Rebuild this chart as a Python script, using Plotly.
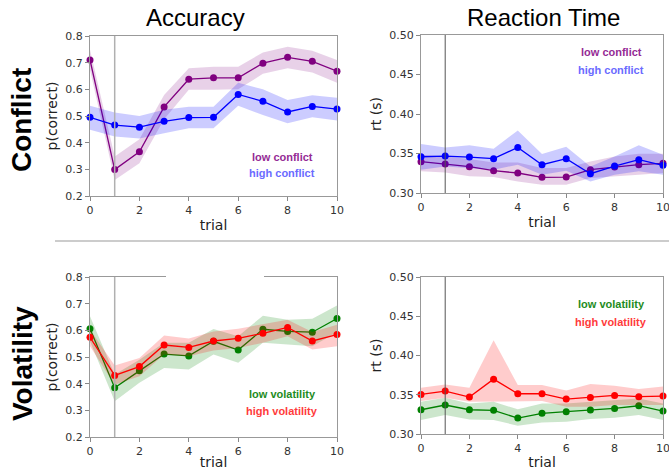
import plotly.graph_objects as go

W, H = 669, 470

trials = list(range(11))

# Conflict - accuracy
acc_low_conf = [0.710, 0.299, 0.366, 0.534, 0.638, 0.643, 0.643, 0.698, 0.720, 0.705, 0.668]
acc_low_conf_hi = [0.748, 0.348, 0.413, 0.579, 0.679, 0.685, 0.685, 0.738, 0.760, 0.745, 0.710]
acc_low_conf_lo = [0.673, 0.260, 0.323, 0.488, 0.598, 0.598, 0.600, 0.658, 0.679, 0.663, 0.625]
acc_high_conf = [0.495, 0.466, 0.458, 0.480, 0.494, 0.495, 0.581, 0.555, 0.515, 0.536, 0.526]
acc_high_conf_hi = [0.538, 0.513, 0.500, 0.523, 0.535, 0.535, 0.625, 0.600, 0.560, 0.578, 0.568]
acc_high_conf_lo = [0.448, 0.423, 0.416, 0.435, 0.454, 0.454, 0.538, 0.504, 0.473, 0.495, 0.483]

# Conflict - reaction time
rt_low_conf = [0.3396, 0.3366, 0.3333, 0.3282, 0.3253, 0.3198, 0.3202, 0.3295, 0.3328, 0.3358, 0.3375]
rt_low_conf_hi = [0.3484, 0.3463, 0.3429, 0.3387, 0.3387, 0.3316, 0.3316, 0.3400, 0.3463, 0.3497, 0.3497]
rt_low_conf_lo = [0.3274, 0.3261, 0.3211, 0.3202, 0.3147, 0.3105, 0.3105, 0.3189, 0.3211, 0.3232, 0.3253]
rt_high_conf = [0.3459, 0.3467, 0.3455, 0.3434, 0.3577, 0.3358, 0.3434, 0.3244, 0.3341, 0.3421, 0.3350]
rt_high_conf_hi = [0.3619, 0.3577, 0.3606, 0.3560, 0.3792, 0.3493, 0.3585, 0.3337, 0.3463, 0.3606, 0.3484]
rt_high_conf_lo = [0.3295, 0.3337, 0.3316, 0.3295, 0.3358, 0.3232, 0.3282, 0.3147, 0.3232, 0.3274, 0.3232]

# Volatility - accuracy
acc_low_vol = [0.606, 0.385, 0.448, 0.511, 0.504, 0.559, 0.526, 0.604, 0.596, 0.593, 0.644]
acc_low_vol_hi = [0.653, 0.434, 0.490, 0.553, 0.553, 0.605, 0.578, 0.655, 0.640, 0.643, 0.693]
acc_low_vol_lo = [0.559, 0.334, 0.403, 0.459, 0.453, 0.509, 0.478, 0.553, 0.546, 0.540, 0.593]
acc_high_vol = [0.574, 0.431, 0.464, 0.545, 0.536, 0.560, 0.570, 0.589, 0.611, 0.560, 0.584]
acc_high_vol_hi = [0.603, 0.468, 0.496, 0.581, 0.569, 0.596, 0.606, 0.624, 0.640, 0.594, 0.621]
acc_high_vol_lo = [0.540, 0.396, 0.428, 0.509, 0.503, 0.524, 0.534, 0.553, 0.578, 0.528, 0.540]

# Volatility - reaction time
rt_low_vol = [0.3309, 0.3369, 0.3309, 0.3301, 0.3203, 0.3263, 0.3284, 0.3305, 0.3326, 0.3360, 0.3292]
rt_low_vol_hi = [0.3411, 0.3462, 0.3390, 0.3411, 0.3314, 0.3390, 0.3390, 0.3411, 0.3432, 0.3453, 0.3390]
rt_low_vol_lo = [0.3178, 0.3242, 0.3186, 0.3178, 0.3106, 0.3148, 0.3157, 0.3191, 0.3208, 0.3242, 0.3178]
rt_high_vol = [0.3504, 0.3547, 0.3470, 0.3699, 0.3513, 0.3513, 0.3445, 0.3466, 0.3492, 0.3475, 0.3483]
rt_high_vol_hi = [0.3589, 0.3631, 0.3589, 0.4195, 0.3623, 0.3623, 0.3555, 0.3636, 0.3614, 0.3572, 0.3606]
rt_high_vol_lo = [0.3419, 0.3462, 0.3411, 0.3419, 0.3419, 0.3419, 0.3347, 0.3347, 0.3369, 0.3369, 0.3369]

x_ticks = [0, 2, 4, 6, 8, 10]
acc_ticks = [0.2, 0.3, 0.4, 0.5, 0.6, 0.7, 0.8]
rt_ticks = [0.30, 0.35, 0.40, 0.45, 0.50]

col_titles = ["Accuracy", "Reaction Time"]
row_titles = ["Conflict", "Volatility"]

PURPLE = "#800080"
BLUE = "#0000ff"
GREEN = "#008000"
RED = "#ff0000"


def px(x):
    return x / W


def py(y):
    return 1 - y / H


fig = go.Figure()

# panel pixel boxes: (left, right, top, bottom)
panels = {
    1: (90, 337, 36, 196),
    2: (421, 663, 35, 193),
    3: (90, 337, 277, 437),
    4: (421, 663, 277, 434),
}


def add_series(idx, y, hi, lo, color, fillcol):
    xa = "x" if idx == 1 else f"x{idx}"
    ya = "y" if idx == 1 else f"y{idx}"
    fig.add_trace(go.Scatter(
        x=trials + trials[::-1], y=hi + lo[::-1], fill="toself",
        fillcolor=fillcol, line=dict(width=0), mode="lines",
        hoverinfo="skip", showlegend=False, xaxis=xa, yaxis=ya))
    fig.add_trace(go.Scatter(
        x=trials, y=y, mode="lines+markers",
        line=dict(color=color, width=1.3), marker=dict(color=color, size=7),
        showlegend=False, xaxis=xa, yaxis=ya, cliponaxis=False))


add_series(1, acc_low_conf, acc_low_conf_hi, acc_low_conf_lo, PURPLE, "rgba(128,0,128,0.18)")
add_series(1, acc_high_conf, acc_high_conf_hi, acc_high_conf_lo, BLUE, "rgba(0,0,255,0.2)")
add_series(2, rt_low_conf, rt_low_conf_hi, rt_low_conf_lo, PURPLE, "rgba(128,0,128,0.18)")
add_series(2, rt_high_conf, rt_high_conf_hi, rt_high_conf_lo, BLUE, "rgba(0,0,255,0.2)")
add_series(3, acc_low_vol, acc_low_vol_hi, acc_low_vol_lo, GREEN, "rgba(0,128,0,0.2)")
add_series(3, acc_high_vol, acc_high_vol_hi, acc_high_vol_lo, RED, "rgba(255,0,0,0.2)")
add_series(4, rt_low_vol, rt_low_vol_hi, rt_low_vol_lo, GREEN, "rgba(0,128,0,0.2)")
add_series(4, rt_high_vol, rt_high_vol_hi, rt_high_vol_lo, RED, "rgba(255,0,0,0.2)")

tickfont = dict(family="DejaVu Sans", size=11, color="#333333")
titlefont = dict(family="DejaVu Sans", size=14, color="#222222")

layout = dict(
    width=W, height=H, margin=dict(l=0, r=0, t=0, b=0),
    plot_bgcolor="white", paper_bgcolor="white", showlegend=False,
)

for idx, (l, r, t, b) in panels.items():
    xk = "xaxis" if idx == 1 else f"xaxis{idx}"
    yk = "yaxis" if idx == 1 else f"yaxis{idx}"
    is_acc = idx in (1, 3)
    layout[xk] = dict(
        domain=[px(l), px(r)], range=[0, 10], tickvals=x_ticks,
        showgrid=False, zeroline=False, showline=True, mirror=True,
        linecolor="#999999", linewidth=1, ticks="outside", ticklen=4,
        tickcolor="#888888", tickfont=tickfont, automargin=False,
        ticklabeloverflow="allow",
        title=dict(text="trial", font=titlefont, standoff=3),
        anchor="y" if idx == 1 else f"y{idx}",
    )
    layout[yk] = dict(
        domain=[py(b), py(t)],
        range=[0.2, 0.8] if is_acc else [0.30, 0.50],
        tickvals=acc_ticks if is_acc else rt_ticks,
        tickformat=".1f" if is_acc else ".2f",
        showgrid=False, zeroline=False, showline=True, mirror=True,
        linecolor="#999999", linewidth=1, ticks="outside", ticklen=4,
        tickcolor="#888888", tickfont=tickfont, automargin=False,
        ticklabeloverflow="allow",
        title=dict(text="p(correct)" if is_acc else "rt (s)", font=titlefont, standoff=4),
        anchor="x" if idx == 1 else f"x{idx}",
    )

fig.update_layout(**layout)

# vertical line at trial 1
for idx in panels:
    xa = "x" if idx == 1 else f"x{idx}"
    ya = "y domain" if idx == 1 else f"y{idx} domain"
    col = "#b0b0b0" if idx in (1, 3) else "#555555"
    fig.add_shape(type="line", xref=xa, yref=ya, x0=1, x1=1, y0=0, y1=1,
                  line=dict(color=col, width=1.5 if idx in (1, 3) else 1))

# separator line
fig.add_shape(type="line", xref="paper", yref="paper", x0=px(55), x1=1,
              y0=py(241), y1=py(241), line=dict(color="#cccccc", width=2))
# white gap in lower-left frame top
fig.add_shape(type="rect", xref="paper", yref="paper", x0=px(166), x1=px(264),
              y0=py(279), y1=py(275), line=dict(width=0), fillcolor="white",
              layer="above")

# column titles
for text, cx in zip(col_titles, [196, 543]):
    fig.add_annotation(text=text, x=px(cx), y=py(18), xref="paper", yref="paper",
                       showarrow=False, xanchor="center", yanchor="middle",
                       font=dict(family="Liberation Sans", size=24, color="black"))
# row titles
for text, cy in zip(row_titles, [120, 364]):
    fig.add_annotation(text=f"<b>{text}</b>", x=px(22), y=py(cy), xref="paper", yref="paper",
                       showarrow=False, xanchor="center", yanchor="middle", textangle=-90,
                       font=dict(family="Liberation Sans", size=28, color="black"))

# in-panel legends
legend_items = [
    ("low conflict", "#952b95", 282, 157),
    ("high conflict", "#6b6bff", 282, 173),
    ("low conflict", "#952b95", 611, 52),
    ("high conflict", "#6b6bff", 611, 70),
    ("low volatility", "#1e8c1e", 282, 394),
    ("high volatility", "#ff3b3b", 282, 411),
    ("low volatility", "#1e8c1e", 611, 304),
    ("high volatility", "#ff3b3b", 611, 322),
]
for text, col, cx, cy in legend_items:
    fig.add_annotation(text=f"<b>{text}</b>", x=px(cx), y=py(cy), xref="paper", yref="paper",
                       showarrow=False, xanchor="center", yanchor="middle",
                       font=dict(family="Liberation Sans", size=11, color=col))

fig.write_html(
    "out.html",
    config={"displayModeBar": False},
    post_script="document.body.style.margin='0px';document.body.style.overflow='hidden';",
)
